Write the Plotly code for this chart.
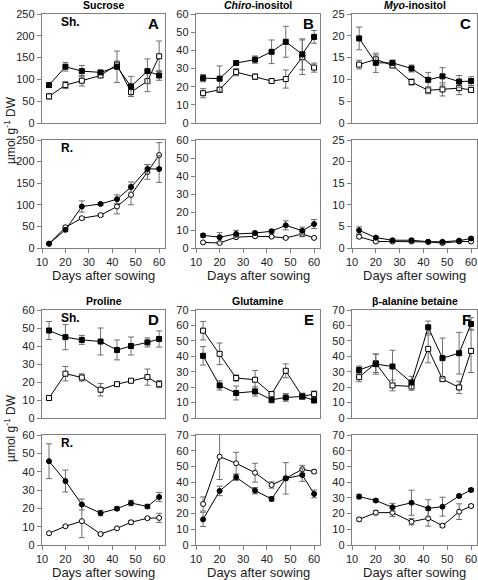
import plotly.graph_objects as go

days = [13, 20, 27, 35, 42, 48, 55, 60]

# Panel A: Sucrose
sucA_sh_f = [87, 129, 119, 116, 129, 84, 119, 109]
sucA_sh_f_e = [5, 10, 13, 4, 36, 23, 28, 11]
sucA_sh_o = [61, 87, 97, 109, 134, 71, 96, 153]
sucA_sh_o_e = [6, 8, 12, 5, 8, 10, 24, 35]
sucA_r_f = [10, 42, 96, 102, 113, 141, 183, 183]
sucA_r_f_e = [2, 3, 13, 3, 10, 12, 10, 31]
sucA_r_o = [10, 48, 69, 76, 96, 123, 176, 215]
sucA_r_o_e = [2, 3, 3, 3, 17, 23, 17, 29]

# Panel B: Chiro-inositol
chiB_sh_f = [24.7, 24.4, 33, 34.9, 39.2, 44.7, 37.8, 47.4]
chiB_sh_f_e = [2, 7, 1, 2, 6.5, 8.5, 8.5, 3.5]
chiB_sh_o = [16.4, 18.3, 28, 25.5, 23.1, 24.2, 36.2, 30.5]
chiB_sh_o_e = [2.5, 1.5, 2, 1.5, 1, 5, 9.5, 2.5]
chiB_r_f = [7.0, 6.0, 7.8, 8.3, 9.3, 12.6, 9.6, 13.3]
chiB_r_f_e = [1, 2.5, 2, 1, 1, 2.5, 2, 2.5]
chiB_r_o = [3.1, 2.8, 6.0, 6.5, 6.3, 5.6, 7.8, 5.6]
chiB_r_o_e = [0.5, 0.5, 0.8, 0.6, 0.5, 0.5, 1.5, 0.5]

# Panel C: Myo-inositol
myoC_sh_f = [19.4, 13.8, 13.8, 12.5, 9.9, 10.7, 9.5, 9.6]
myoC_sh_f_e = [2.6, 2.2, 0.6, 0.8, 1.7, 2.0, 1.4, 1.0]
myoC_sh_o = [13.4, 14.6, 13.2, 9.4, 7.5, 7.7, 8.0, 7.6]
myoC_sh_o_e = [1.0, 1.0, 0.5, 0.7, 0.8, 1.5, 1.5, 0.6]
myoC_r_f = [4.1, 2.4, 1.8, 1.8, 1.45, 1.45, 1.7, 2.2]
myoC_r_f_e = [0.8, 0.3, 0.3, 0.3, 0.2, 0.2, 0.2, 0.3]
myoC_r_o = [2.6, 1.5, 1.5, 1.5, 1.4, 1.15, 1.5, 1.5]
myoC_r_o_e = [0.4, 0.2, 0.2, 0.2, 0.2, 0.2, 0.2, 0.2]

# Panel D: Proline
proD_sh_f = [48.6, 44.9, 43.4, 42.5, 37.8, 40, 42, 43.9]
proD_sh_f_e = [5, 7, 2.5, 7.5, 5.5, 5, 2.5, 4.5]
proD_sh_o = [11.1, 24.6, 22.5, 15.7, 18.8, 20.7, 22.7, 18.8]
proD_sh_o_e = [1, 4, 2, 3.5, 1, 1, 4.5, 2]
proD_r_f = [45.7, 34.9, 22.1, 17.4, 19.8, 22.9, 21, 26.2]
proD_r_f_e = [9.5, 6, 3, 1.5, 1, 1.5, 1, 2.5]
proD_r_o = [6.4, 10.2, 13, 6.0, 9.1, 12.4, 14.6, 14.8]
proD_r_o_e = [0.5, 0.5, 9, 0.5, 0.5, 1, 0.5, 2.5]

# Panel E: Glutamine
gluE_sh_f = [40.3, 21.1, 16.2, 17.2, 11.8, 13.3, 14, 11.4]
gluE_sh_f_e = [6, 3, 4.5, 3, 2, 2.5, 2, 1.5]
gluE_sh_o = [56.6, 41.6, 25.9, 24.8, 15.5, 30.6, 14, 15.5]
gluE_sh_o_e = [6, 7, 2, 6, 1.5, 4.5, 2, 2]
gluE_r_f = [16.3, 34.4, 43.1, 34.6, 29.3, 42.4, 44.5, 32.5]
gluE_r_f_e = [4.5, 3, 2, 2, 1.5, 10, 4, 2.5]
gluE_r_o = [26.1, 56.2, 52, 46, 38.2, 42.4, 48.2, 46.7]
gluE_r_o_e = [4.5, 14.5, 7, 6, 2, 1, 2.5, 1]

# Panel F: beta-alanine betaine
balF_sh_f = [31.2, 34.9, 33.4, 23, 58.8, 38.8, 42, 61]
balF_sh_f_e = [2.5, 6.5, 10.5, 4, 4, 13, 13.5, 4]
balF_sh_o = [26.5, 35.5, 21.1, 20.5, 44.8, 25.2, 19.8, 43.5]
balF_sh_o_e = [3, 6, 3.5, 2.5, 9, 1, 4, 14]
balF_r_f = [30.8, 28.3, 24, 26.9, 23.3, 24.4, 31.2, 35]
balF_r_f_e = [1.5, 1, 2.5, 8, 5.5, 6, 1, 1]
balF_r_o = [16.3, 20.6, 20.6, 14.8, 17, 12.3, 21.2, 24.8]
balF_r_o_e = [1, 1.5, 2.5, 2, 5, 1, 5, 1]

titles = ["<b>Sucrose</b>", "<b><i>Chiro</i>-inositol</b>", "<b><i>Myo</i>-inositol</b>",
          "<b>Proline</b>", "<b>Glutamine</b>", "<b>β-alanine betaine</b>"]
letters = ["A", "B", "C", "D", "E", "F"]
yranges = [250, 60, 25, 60, 70, 70]
ydticks = [50, 10, 5, 10, 10, 10]

panels = [
    (sucA_sh_f, sucA_sh_f_e, sucA_sh_o, sucA_sh_o_e, sucA_r_f, sucA_r_f_e, sucA_r_o, sucA_r_o_e),
    (chiB_sh_f, chiB_sh_f_e, chiB_sh_o, chiB_sh_o_e, chiB_r_f, chiB_r_f_e, chiB_r_o, chiB_r_o_e),
    (myoC_sh_f, myoC_sh_f_e, myoC_sh_o, myoC_sh_o_e, myoC_r_f, myoC_r_f_e, myoC_r_o, myoC_r_o_e),
    (proD_sh_f, proD_sh_f_e, proD_sh_o, proD_sh_o_e, proD_r_f, proD_r_f_e, proD_r_o, proD_r_o_e),
    (gluE_sh_f, gluE_sh_f_e, gluE_sh_o, gluE_sh_o_e, gluE_r_f, gluE_r_f_e, gluE_r_o, gluE_r_o_e),
    (balF_sh_f, balF_sh_f_e, balF_sh_o, balF_sh_o_e, balF_r_f, balF_r_f_e, balF_r_o, balF_r_o_e),
]

W, H = 478, 580
FONT = "Liberation Sans, Arial, sans-serif"
GRAY = "#7f7f7f"
ERR = "#6e6e6e"

xpix = [(42, 165), (196, 320), (352, 477)]
ypix = [(14, 123), (140, 248), (310, 418), (435, 545)]

def px(x):
    return x / W

def py(y):
    return 1 - y / H

def note(text, x, y, size, xanchor="center", angle=0, color="black"):
    return dict(text=text, x=px(x), y=py(y), xref="paper", yref="paper",
                xanchor=xanchor, yanchor="middle", showarrow=False, textangle=angle,
                font=dict(size=size, family=FONT, color=color))

fig = go.Figure()
layout = {}
ann = []
axn = 0

for p in range(6):
    col = p % 3
    blk = p // 3
    data = panels[p]
    for sub in range(2):  # 0 shoot, 1 root
        row = blk * 2 + sub
        axn += 1
        xa = "x" if axn == 1 else f"x{axn}"
        ya = "y" if axn == 1 else f"y{axn}"
        xk = "xaxis" if axn == 1 else f"xaxis{axn}"
        yk = "yaxis" if axn == 1 else f"yaxis{axn}"
        x0, x1 = xpix[col]
        y0, y1 = ypix[row]
        showx = sub == 1
        layout[xk] = dict(domain=[px(x0), px(x1)], anchor=ya, range=[10, 62.5],
                          tickvals=[10, 20, 30, 40, 50, 60],
                          showticklabels=showx, ticks="outside" if showx else "",
                          ticklen=4, tickcolor=GRAY, showline=True, linecolor=GRAY,
                          linewidth=1.2, mirror=True, showgrid=False, zeroline=False,
                          automargin=False,
                          tickfont=dict(size=11, color="#222", family=FONT))
        layout[yk] = dict(domain=[py(y1), py(y0)], anchor=xa, range=[0, yranges[p]],
                          dtick=ydticks[p], ticks="outside", ticklen=4, tickcolor=GRAY,
                          showline=True, linecolor=GRAY, linewidth=1.2, mirror=True,
                          showgrid=False, zeroline=False, automargin=False,
                          tickfont=dict(size=11, color="#222", family=FONT))
        sym = "square" if sub == 0 else "circle"
        fv, fe, ov, oe = data[sub * 4: sub * 4 + 4]
        for vals, errs, fill in [(ov, oe, "white"), (fv, fe, "black")]:
            fig.add_trace(go.Scatter(
                x=days, y=vals, xaxis=xa, yaxis=ya, mode="lines+markers",
                line=dict(color="black", width=1),
                marker=dict(symbol=sym, size=5, color=fill, line=dict(color="black", width=1)),
                error_y=dict(type="data", array=errs, visible=True, color=ERR,
                             thickness=1, width=3),
                showlegend=False, cliponaxis=False, hoverinfo="skip"))
        if sub == 1:
            ann.append(note("Days after sowing", (x0 + x1) / 2, y1 + 27, 13, color="#222"))
        if col == 0:
            lab = "Sh." if sub == 0 else "R."
            ann.append(note(f"<b>{lab}</b>", x0 + 17, y0 + 8, 12, xanchor="left"))
        if sub == 0:
            ann.append(note(f"<b>{letters[p]}</b>", x1 - 4, y0 + 9, 15, xanchor="right"))
            ann.append(note(titles[p], (x0 + x1) / 2, y0 - 9, 10.5))

for yc in (130, 428):
    ann.append(note("µmol g<sup>-1</sup> DW", 10, yc, 12, angle=-90, color="#222"))

fig.update_layout(width=W, height=H, margin=dict(l=0, r=0, t=0, b=0, autoexpand=False),
                  plot_bgcolor="white", paper_bgcolor="white", hovermode=False,
                  annotations=ann, **layout)
fig.write_html("out.html", config={"displayModeBar": False, "staticPlot": True},
               post_script="document.body.style.margin='0';document.body.style.overflow='hidden';")
